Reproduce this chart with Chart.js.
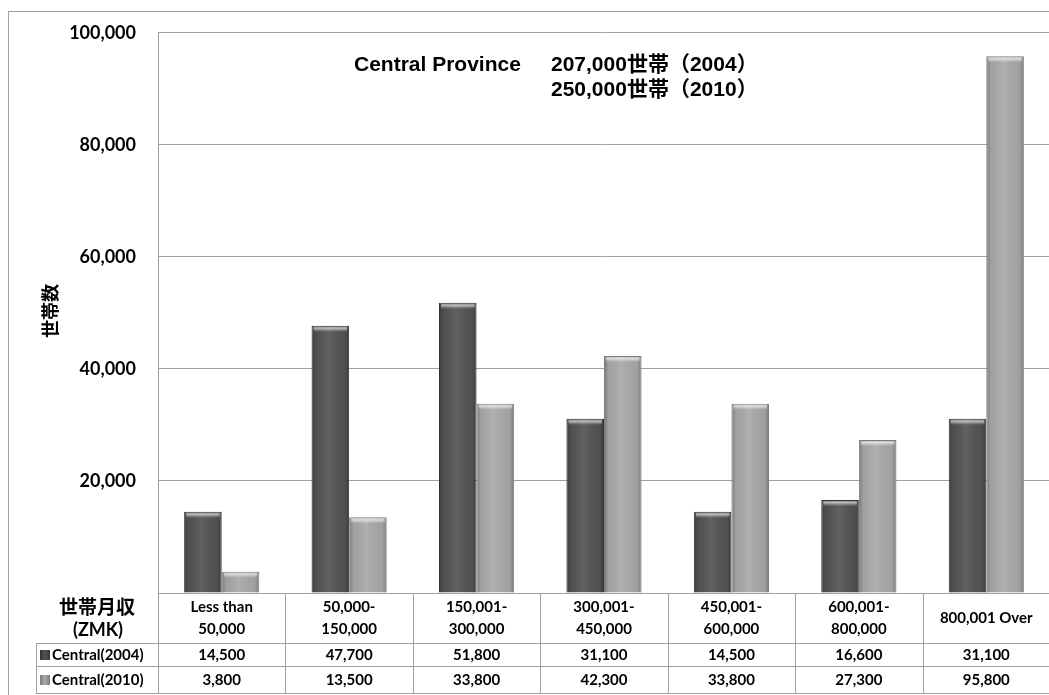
<!DOCTYPE html>
<html lang="ja">
<head>
<meta charset="UTF-8">
<title>Central Province 世帯月収</title>
<script src="https://cdn.jsdelivr.net/npm/chart.js@4"></script>
<style>
  html, body { margin: 0; padding: 0; background: #fff; overflow: hidden; }
  canvas { display: block; }
</style>
</head>
<body>
<canvas id="incomeChart" width="1060" height="700"></canvas>
<script>
// income bands (ZMK) and household counts per survey year
const categories = [
  ['Less than', '50,000'],
  ['50,000-', '150,000'],
  ['150,001-', '300,000'],
  ['300,001-', '450,000'],
  ['450,001-', '600,000'],
  ['600,001-', '800,000'],
  ['800,001 Over']
];
const seriesNames = ['Central(2004)', 'Central(2010)'];
const households2004 = [14500, 47700, 51800, 31100, 14500, 16600, 31100];
const households2010 = [3800, 13500, 33800, 42300, 33800, 27300, 95800];
const yTicks = [0, 20000, 40000, 60000, 80000, 100000];
const noteLines = ['Central Province', '207,000世帯（2004）', '250,000世帯（2010）'];

const LATIN = 'Lato, "Noto Sans CJK JP", sans-serif';
const ARIAL = '"Liberation Sans", "Noto Sans CJK JP", sans-serif';
const CJK = '"Noto Sans CJK JP", sans-serif';
const LINE = '#a0a0a0';
const barFill = ['#545454', '#a9a9a9'];
const barEdge = ['#333333', '#7c7c7c'];

const fmt = v => v.toLocaleString('en-US');

// outer frame behind everything
const framePlugin = {
  id: 'frame',
  beforeDraw(chart) {
    const ctx = chart.ctx;
    ctx.save();
    ctx.fillStyle = '#fff';
    ctx.fillRect(0, 0, chart.width, chart.height);
    ctx.strokeStyle = LINE;
    ctx.lineWidth = 1;
    ctx.strokeRect(8.5, 11.5, chart.width, chart.height);
    ctx.restore();
  }
};

// shade each bar so it looks rounded, with a light bevel on top
const bevelPlugin = {
  id: 'bevel',
  afterDatasetsDraw(chart) {
    const ctx = chart.ctx;
    chart.data.datasets.forEach((ds, di) => {
      chart.getDatasetMeta(di).data.forEach(bar => {
        const left = bar.x - bar.width / 2;
        const top = bar.y;
        const h = bar.base - bar.y;
        if (h <= 0) return;
        ctx.save();
        const g = ctx.createLinearGradient(left, 0, left + bar.width, 0);
        g.addColorStop(0, 'rgba(0,0,0,0.28)');
        g.addColorStop(0.12, 'rgba(0,0,0,0.05)');
        g.addColorStop(0.45, 'rgba(255,255,255,0.08)');
        g.addColorStop(0.88, 'rgba(0,0,0,0.05)');
        g.addColorStop(1, 'rgba(0,0,0,0.28)');
        ctx.fillStyle = g;
        ctx.fillRect(left + 1, top + 1, bar.width - 2, h - 1);
        const bh = Math.min(6, h - 1);
        const t = ctx.createLinearGradient(0, top, 0, top + bh);
        t.addColorStop(0, 'rgba(255,255,255,0.15)');
        t.addColorStop(0.4, 'rgba(255,255,255,0.6)');
        t.addColorStop(1, 'rgba(255,255,255,0)');
        ctx.fillStyle = t;
        ctx.fillRect(left + 2, top + 1, bar.width - 4, bh);
        ctx.restore();
      });
    });
  }
};

// data table under the axis, the axis captions and the note in the plot
const tablePlugin = {
  id: 'table',
  afterDraw(chart) {
    const ctx = chart.ctx;
    const x = chart.scales.x;
    const area = chart.chartArea;
    const n = categories.length;
    const w = (x.right - x.left) / n;
    const yAxis = area.bottom;
    const rowTop = 643, rowMid = 666, rowBot = 693;
    const tableLeft = 36;

    ctx.save();
    ctx.strokeStyle = LINE;
    ctx.lineWidth = 1;
    ctx.beginPath();
    for (let i = 0; i <= n; i++) {
      const bx = Math.round(x.left + i * w) + 0.5;
      ctx.moveTo(bx, yAxis);
      ctx.lineTo(bx, rowBot);
    }
    [rowTop, rowMid, rowBot].forEach(yy => {
      ctx.moveTo(tableLeft, yy + 0.5);
      ctx.lineTo(x.right, yy + 0.5);
    });
    ctx.moveTo(tableLeft + 0.5, rowTop);
    ctx.lineTo(tableLeft + 0.5, rowBot);
    ctx.stroke();

    // category labels
    ctx.fillStyle = '#000';
    ctx.textAlign = 'center';
    ctx.textBaseline = 'middle';
    ctx.font = 'bold 15px ' + LATIN;
    categories.forEach((lines, i) => {
      const cx = x.getPixelForValue(i);
      if (lines.length === 1) {
        ctx.fillText(lines[0], cx, 618);
      } else {
        ctx.fillText(lines[0], cx, 607);
        ctx.fillText(lines[1], cx, 629);
      }
    });

    // values
    ctx.font = 'bold 15px ' + LATIN;
    [households2004, households2010].forEach((vals, r) => {
      const cy = r === 0 ? 655 : 680;
      vals.forEach((v, i) => ctx.fillText(fmt(v), x.getPixelForValue(i), cy));
    });

    // series keys
    ctx.textAlign = 'left';
    seriesNames.forEach((name, r) => {
      const cy = r === 0 ? 655 : 680;
      const g = ctx.createLinearGradient(40, 0, 50, 0);
      g.addColorStop(0, barEdge[r]);
      g.addColorStop(0.5, barFill[r]);
      g.addColorStop(1, barEdge[r]);
      ctx.fillStyle = g;
      ctx.fillRect(40, cy - 5, 10, 10);
      ctx.fillStyle = '#000';
      ctx.fillText(name, 52, cy);
    });

    // axis captions
    ctx.textAlign = 'center';
    ctx.font = 'bold 19px ' + CJK;
    ctx.fillText('世帯月収', 97, 607);
    ctx.font = 'bold 18px ' + LATIN;
    ctx.fillText('(ZMK)', 98, 630);

    ctx.save();
    ctx.translate(50, 311);
    ctx.rotate(-Math.PI / 2);
    ctx.font = 'bold 18px ' + CJK;
    ctx.fillText('世帯数', 0, 0);
    ctx.restore();

    // note
    ctx.textAlign = 'left';
    ctx.font = 'bold 21px ' + ARIAL;
    ctx.fillText(noteLines[0], 354, 65);
    ctx.fillText(noteLines[1], 551, 65);
    ctx.fillText(noteLines[2], 551, 90);
    ctx.restore();
  }
};

new Chart(document.getElementById('incomeChart'), {
  type: 'bar',
  data: {
    labels: categories,
    datasets: [
      {
        label: seriesNames[0],
        data: households2004,
        backgroundColor: barFill[0],
        borderColor: barEdge[0],
        borderWidth: 1
      },
      {
        label: seriesNames[1],
        data: households2010,
        backgroundColor: barFill[1],
        borderColor: barEdge[1],
        borderWidth: 1
      }
    ]
  },
  options: {
    responsive: false,
    animation: false,
    devicePixelRatio: 1,
    layout: { padding: { top: 30, right: 10, left: 0, bottom: 0 } },
    datasets: { bar: { categoryPercentage: 0.59, barPercentage: 1 } },
    plugins: {
      legend: { display: false },
      tooltip: { enabled: false }
    },
    scales: {
      x: {
        grid: { display: false },
        border: { display: true, color: LINE },
        ticks: { display: false },
        afterFit(scale) { scale.height = 107; }
      },
      y: {
        min: 0,
        max: 100000,
        afterBuildTicks(scale) { scale.ticks = yTicks.map(v => ({ value: v })); },
        ticks: {
          color: '#000',
          font: { family: LATIN, size: 18, weight: 'bold' },
          padding: 22,
          callback: v => (v === 0 ? '' : fmt(v))
        },
        grid: { color: LINE, drawTicks: false },
        border: { display: true, color: LINE },
        afterFit(scale) { scale.width = 158; }
      }
    }
  },
  plugins: [framePlugin, bevelPlugin, tablePlugin]
});
</script>
</body>
</html>
